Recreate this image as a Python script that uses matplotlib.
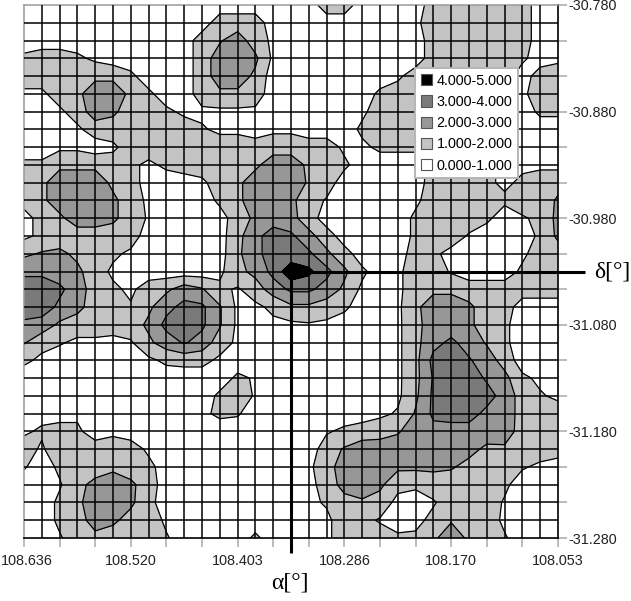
import numpy as np
import matplotlib
matplotlib.use("Agg")
import matplotlib.pyplot as plt
import matplotlib.transforms as mtransforms
from matplotlib.patches import Patch

plt.rcParams["font.family"] = ["Liberation Sans", "DejaVu Sans"]

# field extent in degrees
RA_LEFT = 108.6362
RA_RIGHT = 108.0531
DEC_TOP = -30.780
DEC_BOTTOM = -31.280

# target position (crosshair)
TARGET_RA = 108.3447
TARGET_DEC = -31.030

LEVELS = [0, 1, 2, 3, 4, 5]
LEVEL_LABELS = ["0.000-1.000", "1.000-2.000", "2.000-3.000", "3.000-4.000", "4.000-5.000"]
LEVEL_COLORS = ["#ffffff", "#c3c3c3", "#979797", "#7a7a7a", "#000000"]

XTICK_LABELS = ["108.636", "108.520", "108.403", "108.286", "108.170", "108.053"]
YTICK_LABELS = ["-30.780", "-30.880", "-30.980", "-31.080", "-31.180", "-31.280"]

# density, row 0 = top (dec -30.780), col 0 = left (ra 108.636)
DENSITY = [
    [.5, .5, .5, .5, .5, .5, .5, .5, .5, .5, .5, .5, .5, .5, .5, .5, .5, 1.5, 1.5, .5, .5, .5, .5, 1.5, 1.5, 1.5, 1.5, 1.5, 1.5, .5, .5],
    [.5, .5, .5, .5, .5, .5, .5, .5, .5, .5, .5, 1.5, 1.5, 1.5, .5, .5, .5, .5, .5, .5, .5, .5, .8, 1.5, 1.5, 1.5, 1.5, 1.5, 1.5, .5, .5],
    [.5, .5, .5, .5, .5, .5, .5, .5, .5, .5, 1.5, 1.9, 2.5, 1.5, .8, .5, .5, .5, .5, .5, .5, .5, .5, 1.5, 1.5, 1.5, 1.5, 1.5, 1.5, .5, .5],
    [1.2, 1.5, 1.5, 1.2, .8, .5, .5, .5, .5, .5, 1.5, 2.5, 2.5, 2.2, .8, .5, .5, .5, .5, .5, .5, .5, .5, 1.5, 1.5, 1.5, 1.5, 1.5, 1.2, .5, .8],
    [1.5, 1.5, 1.5, 1.5, 1.8, 1.8, 1.2, .5, .5, .5, 1.5, 2.5, 2.5, 1.8, .5, .5, .5, .5, .5, .5, .5, .8, 1.5, 1.5, 1.5, 1.5, 1.5, 1.5, .5, 1.5, 1.5],
    [.8, .8, 1.5, 1.8, 2.5, 2.5, 1.8, 1.2, .5, .5, 1.5, 1.8, 1.8, 1.5, .5, .5, .5, .5, .5, .5, 1.2, 1.5, 1.5, 1.5, 1.5, 1.5, 1.5, 1.5, .8, 1.5, 1.5],
    [.5, .5, .8, 1.5, 2.5, 2.2, 1.5, 1.5, 1.2, .8, .8, .8, .8, .8, .5, .5, .5, .5, .5, .8, 1.5, 1.5, 1.5, 1.5, 1.5, 1.5, 1.5, 1.5, .5, 1.2, 1.2],
    [.5, .5, .5, .8, 1.5, 1.5, 1.5, 1.5, 1.5, 1.5, 1.1, .8, .8, .5, .8, .8, .5, .5, .5, 1.2, 1.5, 1.5, 1.5, 1.5, 1.5, 1.5, 1.5, 1.5, .5, .5, .5],
    [.5, .5, .8, .8, .5, .8, 1.5, 1.5, 1.5, 1.5, 1.5, 1.5, 1.5, 1.5, 1.6, 1.6, 1.5, 1.5, .8, .8, 1.2, 1.2, 1.2, 1.5, 1.5, 1.5, 1.5, 1.5, .5, .5, .5],
    [1.2, 1.2, 1.8, 1.8, 1.8, 1.5, 1.2, .8, 1.2, 1.5, 1.5, 1.5, 1.5, 1.8, 2.5, 2.5, 1.8, 1.5, 1.2, .5, .5, .5, .5, 1.5, 1.5, 1.5, 1.5, .5, .8, .8, .8],
    [1.5, 1.8, 2.5, 2.5, 2.5, 1.8, 1.5, .5, .5, .5, .8, 1.5, 1.8, 2.5, 2.5, 2.5, 1.9, 1.5, .5, .5, .5, .5, .5, 1.5, 1.5, 1.5, 1.2, .8, 1.2, 1.5, 1.5],
    [1.2, 1.8, 2.5, 2.5, 2.5, 2.2, 1.5, .8, .5, .5, .5, 1.2, 1.8, 2.5, 2.5, 2.2, 1.5, .9, .5, .5, .5, .5, .8, 1.5, 1.5, 1.5, 1.5, 1.2, 1.5, 1.2, 2.2],
    [.8, 1.2, 1.8, 2.5, 2.5, 2.2, 1.5, .9, .5, .5, .5, .6, 1.5, 2.2, 2.5, 2.3, 1.5, .5, .5, .5, .5, .5, 1.2, 1.5, 1.5, 1.5, 1.2, .5, .9, 1.2, 2.3],
    [.8, 1.2, 1.5, 1.5, 1.5, 1.5, 1.5, .5, .5, .5, .5, .6, 1.7, 2.7, 3.5, 3.2, 2.3, 1.5, .5, .5, .5, .5, 1.2, 1.5, 1.5, .9, .5, .5, .5, 1.2, 2.2],
    [1.8, 2.1, 2.2, 1.8, 1.5, 1.2, .8, .5, .5, .5, .5, .6, 1.8, 2.7, 3.5, 3.25, 3.2, 2.2, 1.4, .5, .5, .8, 1.2, 1.2, .7, .5, .5, .5, .8, 1.5, 1.5],
    [2.8, 2.8, 2.5, 2.2, 1.5, .8, .5, .5, .5, .5, .5, .8, 1.7, 2.3, 3.3, 4.75, 4.25, 3.3, 2.2, 1.2, .5, .8, 1.5, 1.5, .9, .5, .5, .5, 1.2, 1.5, 1.5],
    [3.5, 3.5, 3.2, 2.5, 1.5, 1.2, .8, 1.5, 1.8, 2.5, 2.1, 1.2, .9, 1.5, 2.5, 3.2, 3.2, 2.6, 1.8, .8, .5, .8, 1.5, 1.8, 1.8, 1.5, 1.5, 1.5, 1.5, 1.5, 1.5],
    [3.5, 3.5, 2.8, 2.3, 1.5, 1.5, 1.1, 1.8, 2.7, 3.3, 3.2, 2.1, .8, .8, 1.2, 1.8, 1.8, 1.5, 1.2, .5, .5, .8, 1.8, 2.5, 2.5, 2.2, 1.5, 1.5, .5, .5, .5],
    [2.8, 2.6, 1.8, 1.5, 1.5, 1.3, 1.5, 2.2, 3.3, 3.5, 3.2, 2.1, .8, .5, .8, .8, .9, .8, .5, .5, .5, .8, 1.7, 2.5, 2.5, 2.2, 1.5, 1.2, .5, .5, .5],
    [2.1, 1.3, 1.1, .8, .8, .8, .9, 1.8, 2.5, 3.1, 2.6, 1.5, .8, .5, .5, .5, .5, .5, .5, .5, .5, .8, 1.7, 2.7, 3.2, 2.6, 1.9, 1.2, .5, .5, .5],
    [1.2, .8, .5, .5, .5, .5, .5, .8, 1.2, 1.3, 1.3, .8, .5, .5, .5, .5, .5, .5, .5, .5, .5, .8, 1.7, 3.3, 3.5, 3.1, 2.5, 1.6, .5, .5, .5],
    [.5, .5, .5, .5, .5, .5, .5, .5, .5, .5, .5, .5, 1.2, .9, .5, .5, .5, .5, .5, .5, .5, .8, 1.7, 3.1, 3.5, 3.4, 2.9, 2.3, 1.2, .8, .5],
    [.5, .5, .5, .5, .5, .5, .5, .5, .5, .5, .5, 1.2, 1.5, .9, .5, .5, .5, .5, .5, .5, .5, .8, 1.8, 3.2, 3.5, 3.5, 3.3, 2.7, 1.5, 1.1, .8],
    [.5, .8, .8, .8, .5, .5, .5, .5, .5, .5, .8, 1.2, 1.1, .5, .5, .5, .5, .5, .5, .5, .8, 1.1, 2.1, 3.2, 3.3, 3.3, 2.8, 2.7, 1.5, 1.5, 1.5],
    [.9, 1.1, 1.2, 1.2, .5, .8, .5, .5, .5, .5, .5, .5, .5, .5, .5, .5, .5, .9, 1.2, 1.5, 1.6, 1.9, 2.5, 2.7, 2.7, 2.7, 2.5, 2.6, 1.5, 1.5, 1.5],
    [1.3, .9, 1.5, 1.5, 1.5, 1.5, 1.5, .8, .5, .5, .5, .5, .5, .5, .5, .5, .5, 1.5, 2.1, 2.5, 2.5, 2.5, 2.5, 2.5, 2.5, 2.3, 1.8, 1.8, 1.5, 1.5, 1.5],
    [1.1, .5, 1.2, 1.5, 1.5, 1.8, 1.5, 1.3, .5, .5, .5, .5, .5, .5, .5, .5, .8, 1.6, 2.5, 2.5, 2.5, 2.2, 2.2, 2.2, 2.1, 1.7, 1.5, 1.5, 1.1, .8, .5],
    [.5, .5, .9, 1.7, 2.3, 2.5, 2.2, 1.5, .5, .5, .5, .5, .5, .5, .5, .5, .5, 1.7, 2.2, 2.4, 2.2, 1.3, 1.2, 1.5, 1.5, 1.5, 1.5, 1.2, .5, .5, .5],
    [.5, .5, 1.2, 1.8, 2.5, 2.5, 2.2, 1.3, .5, .5, .5, .5, .5, .5, .5, .5, .8, 1.1, 1.8, 1.9, 1.6, .7, .5, .9, 1.5, 1.5, 1.5, .9, .5, .5, .5],
    [.5, .5, 1.2, 1.7, 2.3, 2.2, 1.6, 1.6, .8, .5, .5, .5, .5, .5, .5, .5, .5, .8, 1.5, 1.3, .9, .5, .7, 1.3, 1.9, 1.9, 1.5, .8, .5, .5, .5],
    [.5, .5, .9, 1.5, 1.8, 1.5, 1.5, 1.5, 1.1, .5, .5, .5, .5, 1.2, .5, .5, .5, .8, 1.5, 1.5, 1.5, 1.2, 1.2, 1.8, 2.6, 1.8, 1.5, 1.1, .5, .5, .5],
]

z = np.array(DENSITY)
n_rows, n_cols = z.shape
ra = np.linspace(RA_LEFT, RA_RIGHT, n_cols)
dec = np.linspace(DEC_TOP, DEC_BOTTOM, n_rows)

fig = plt.figure(figsize=(6.31, 6.01), dpi=100)
ax = fig.add_axes([24 / 631, 63 / 601, 534 / 631, 533 / 601])

ax.contourf(ra, dec, z, levels=LEVELS, colors=LEVEL_COLORS, zorder=1)
ax.contour(ra, dec, z, levels=LEVELS[1:-1], colors="black", linewidths=0.9, zorder=2)

# cell grid
for x in ra[1:-1]:
    ax.axvline(x, color="black", lw=1.1, zorder=3)
for y in dec[1:-1]:
    ax.axhline(y, color="black", lw=1.1, zorder=3)

ax.set_xlim(RA_LEFT, RA_RIGHT)
ax.set_ylim(DEC_BOTTOM, DEC_TOP)

xt = ra[::2]
yt = dec[::2]
ax.set_xticks(xt, [XTICK_LABELS[i // 3] if i % 3 == 0 else "" for i in range(len(xt))])
ax.set_yticks(yt, [YTICK_LABELS[i // 3] if i % 3 == 0 else "" for i in range(len(yt))])
ax.yaxis.tick_right()
ax.tick_params(direction="out", length=6.7, width=1.2, color="#b0b0b0",
               labelsize=10.4, labelcolor="#222222")
ax.tick_params(axis="x", pad=5)
ax.tick_params(axis="y", pad=0.8)

# first ra label sits flush with the left edge of the figure
first = ax.get_xticklabels()[0]
first.set_transform(first.get_transform()
                    + mtransforms.ScaledTranslation(3 / 100, 0, fig.dpi_scale_trans))

for side in ["right", "bottom"]:
    ax.spines[side].set_color("black")
    ax.spines[side].set_linewidth(1.2)
for side in ["top", "left"]:
    ax.spines[side].set_color("#9a9a9a")
    ax.spines[side].set_linewidth(1.1)

# crosshair on the target
ax.plot([TARGET_RA, TARGET_RA], [TARGET_DEC, DEC_BOTTOM - 0.014], color="black",
        lw=2.2, clip_on=False, zorder=6, solid_capstyle="butt")
ax.plot([TARGET_RA, RA_RIGHT - 0.029], [TARGET_DEC, TARGET_DEC], color="black",
        lw=2.2, clip_on=False, zorder=6, solid_capstyle="butt")

handles = [Patch(facecolor=c, edgecolor="#555555", lw=0.8) for c in LEVEL_COLORS[::-1]]
leg = ax.legend(handles, LEVEL_LABELS[::-1], loc="upper left",
                bbox_to_anchor=(415 / 631, 1 - 68 / 601), bbox_transform=fig.transFigure,
                borderaxespad=0, fancybox=False, framealpha=1, edgecolor="#b5b5b5",
                fontsize=10.4, handlelength=0.8, handleheight=0.8, handletextpad=0.3,
                labelspacing=0.5, borderpad=0.4)
leg.get_frame().set_linewidth(1.4)
leg.set_zorder(10)

fig.text(612 / 631, 1 - 272 / 601, "δ[°]", family=["Liberation Serif", "DejaVu Serif"],
         fontsize=17, ha="center", va="center")
fig.text(290 / 631, 1 - 583 / 601, "α[°]", family=["Liberation Serif", "DejaVu Serif"],
         fontsize=17, ha="center", va="center")

fig.savefig("out.png", dpi=100)
